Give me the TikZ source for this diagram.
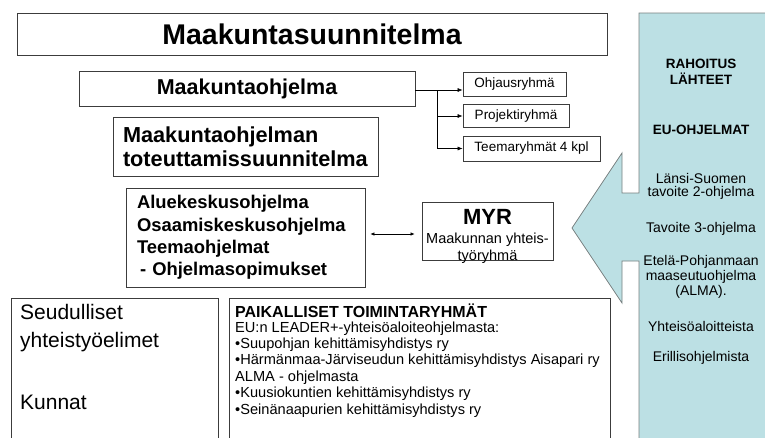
\documentclass[tikz,border=0pt]{standalone}
\usepackage{fontspec}
\setmainfont{Liberation Sans}
\usetikzlibrary{arrows.meta, positioning, calc}
\definecolor{rahblue}{RGB}{188,224,228}
\definecolor{rahedge}{RGB}{120,128,128}
\definecolor{boxedge}{RGB}{60,60,60}
\newcommand{\fsz}[2]{\fontsize{#1pt}{#2pt}\selectfont}

\begin{document}
\begin{tikzpicture}[x=1pt, y=-1pt,
  box/.style={draw=boxedge, line width=0.8pt, fill=white, inner sep=0pt},
  arr/.style={-{Latex[length=5pt,width=4pt]}, line width=0.6pt},
  dblarr/.style={{Latex[length=4pt,width=3.5pt]}-{Latex[length=4pt,width=3.5pt]}, line width=0.6pt},
  lbl/.style={inner sep=0pt},
  sidelbl/.style={inner sep=0pt, font=\fsz{14}{16}}]
\useasboundingbox (0,0) rectangle (765,437);
\clip (0,0) rectangle (765,437);

% top boxes
\node[box, minimum width=590pt, minimum height=42pt, font=\bfseries\fsz{28.5}{30}]
  (plan) at (312,34) {Maakuntasuunnitelma};
\node[box, minimum width=336pt, minimum height=35pt, font=\bfseries\fsz{21.5}{24}]
  (ohj) at (247,88.5) {Maakuntaohjelma};
\node[box, minimum width=265pt, minimum height=59pt, inner xsep=10pt, text width=245pt,
  align=left, font=\bfseries\fsz{21.7}{24}]
  (tot) at (245.5,146.5) {Maakuntaohjelman\\toteuttamissuunnitelma};

% working groups
\node[box, minimum width=103pt, minimum height=24pt, font=\fsz{13.5}{15}]
  (ohjaus) at (514.5,84) {Ohjausryhmä};
\node[box, minimum width=106pt, minimum height=23pt, font=\fsz{13.5}{15}]
  (proj) at (516,116) {Projektiryhmä};
\node[box, minimum width=137pt, minimum height=25pt, font=\fsz{13.5}{15}]
  (teema) at (531.5,148.5) {Teemaryhmät 4 kpl};
\coordinate (fork) at (437,90);
\draw[arr] (fork -| ohj.east) -- (fork -| ohjaus.west);
\draw[arr] (fork) |- (teema.west);
\draw[arr] (proj.west -| fork) -- (proj.west);

% programmes and MYR
\node[box, minimum width=239pt, minimum height=99pt, inner xsep=11pt, text width=217pt,
  align=left, font=\bfseries\fsz{18.4}{22.3}]
  (alue) at (245.5,237.5) {Aluekeskusohjelma\\Osaamiskeskusohjelma\\Teemaohjelmat\\
  \hspace*{3pt}- Ohjelmasopimukset};
\node[box, minimum width=131pt, minimum height=58pt] (myr) at (487.5,231) {};
\node[lbl, font=\bfseries\fsz{22}{22}] (myrt) at (487.5,217) {MYR};
\node[lbl, align=center, font=\fsz{14.5}{17}] (myrs) at (487.5,248.5)
  {Maakunnan yhteis-\\työryhmä};
\draw[dblarr] ($(alue.east)+(5,-3.5)$) -- ($(myr.west)+(-7,3)$);

% funding arrow
\draw[rahedge, line width=0.8pt, fill=rahblue]
  (639,13) -- (772,13) -- (772,450) -- (639,450) -- (639,261) -- (622,261)
  -- (622,303) -- (572,228) -- (622,153) -- (622,193) -- (639,193) -- cycle;
\foreach \y/\txt [count=\i] in {64/RAHOITUS, 79/LÄHTEET, 130/EU-OHJELMAT}
  \node[lbl, font=\bfseries\fsz{13.5}{16}] (rb\i) at (701,\y) {\txt};
\foreach \y/\txt [count=\i] in {178/Länsi-Suomen, 193/tavoite 2-ohjelma,
    229/Tavoite 3-ohjelma, 262/Etelä-Pohjanmaan, 277/maaseutuohjelma,
    292/(ALMA)., 326/Yhteisöaloitteista, 358/Erillisohjelmista}
  \node[sidelbl] (rs\i) at (701,\y) {\txt};

% bottom boxes
\node[box, minimum width=207pt, minimum height=150pt, anchor=north west]
  (seud) at (11,298) {};
\foreach \y/\txt [count=\i] in {312/Seudulliset, 342/yhteistyöelimet, 402/Kunnat}
  \node[lbl, anchor=west, font=\fsz{21}{24}] (sd\i) at (20,\y) {\txt};

\node[box, minimum width=381pt, minimum height=150pt, anchor=north west]
  (paik) at (229,298) {};
\node[lbl, anchor=west, font=\bfseries\fsz{16}{19}] (pk0) at (235,310.5)
  {PAIKALLISET TOIMINTARYHMÄT};
\foreach \y/\txt [count=\i] in {
    328.5/EU:n LEADER+-yhteisöaloiteohjelmasta:,
    344.5/•Suupohjan kehittämisyhdistys ry,
    361/•Härmänmaa-Järviseudun kehittämisyhdistys Aisapari ry,
    377.5/ALMA - ohjelmasta,
    394/•Kuusiokuntien kehittämisyhdistys ry,
    410.5/•Seinänaapurien kehittämisyhdistys ry}
  \node[lbl, anchor=west, font=\fsz{14.6}{16}] (pk\i) at (235,\y) {\txt};
\end{tikzpicture}
\end{document}
